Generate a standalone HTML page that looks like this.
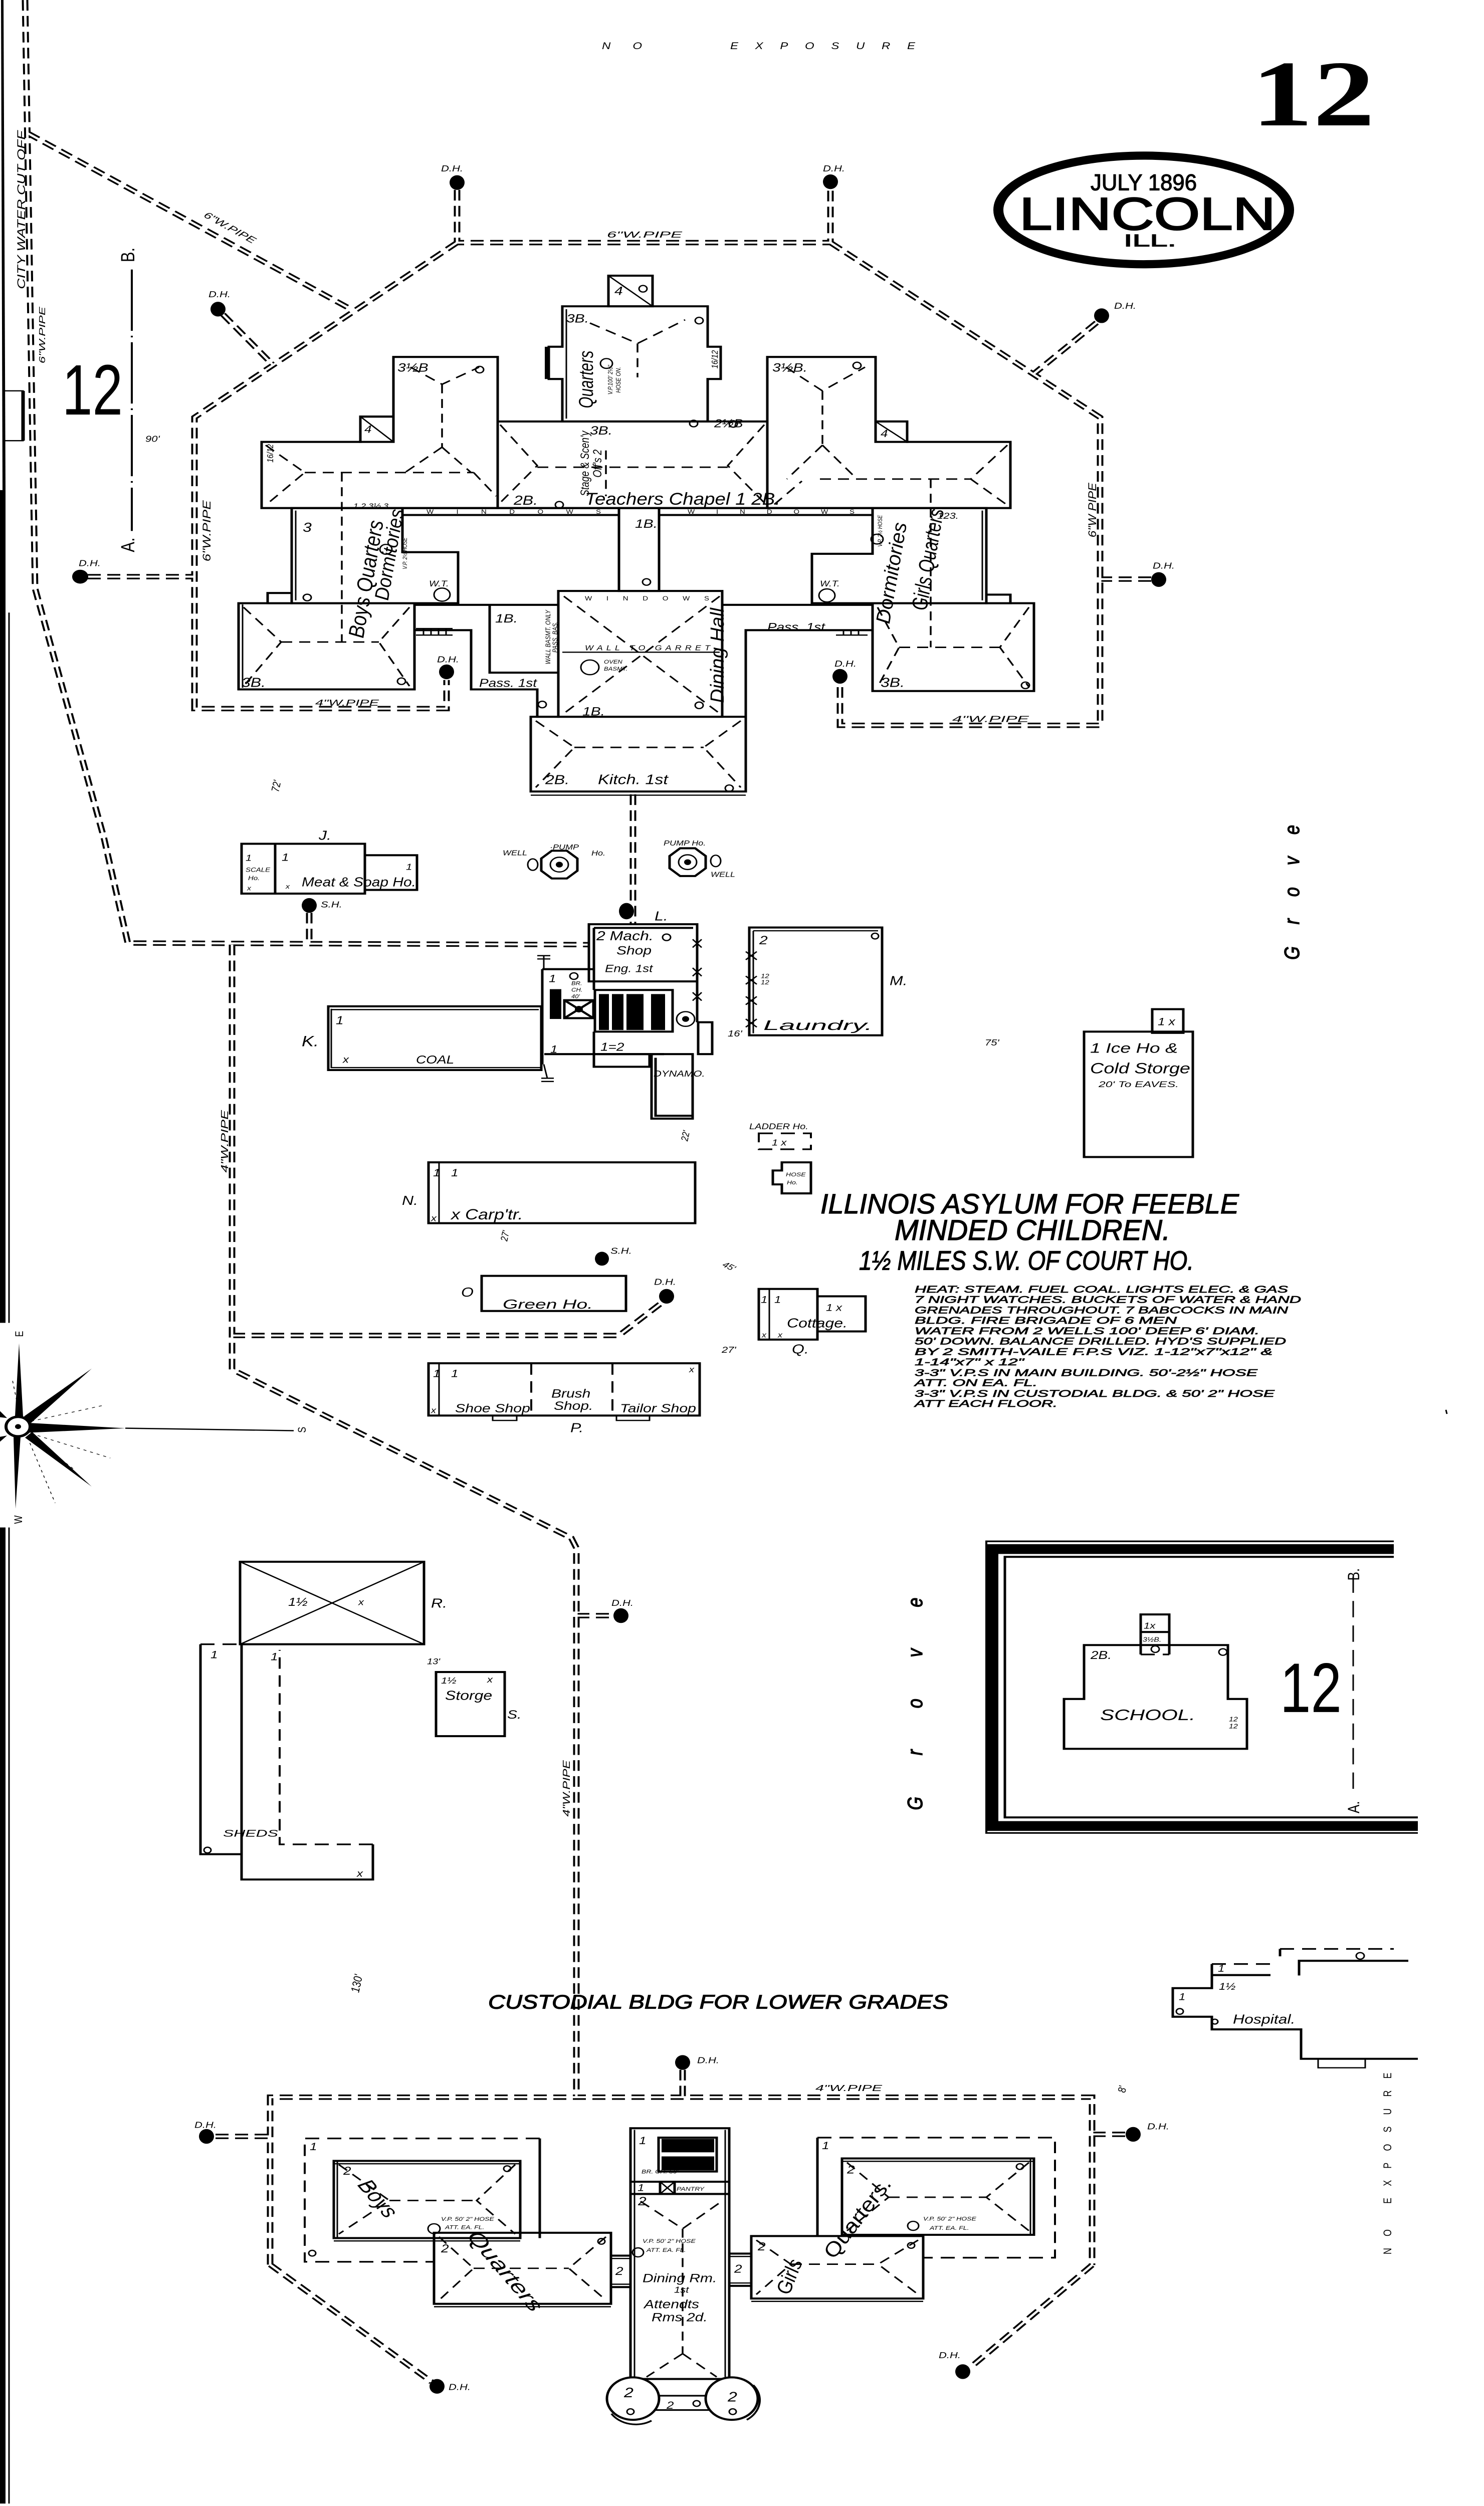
<!DOCTYPE html>
<html><head><meta charset="utf-8"><style>
html,body{margin:0;padding:0;background:#fff;width:100%;height:100%;overflow:hidden;}
svg{display:block;position:absolute;left:0;top:0;width:100vw;height:100vh;}
text{font-family:"Liberation Sans",sans-serif;font-style:italic;fill:#000;}
.b{fill:none;stroke:#000;stroke-width:5;}
.t{fill:none;stroke:#000;stroke-width:3;}
.rf{fill:none;stroke:#000;stroke-width:3.5;stroke-dasharray:22 14;}
.ds{fill:none;stroke:#000;stroke-width:4;stroke-dasharray:28 16;}
.o{fill:none;stroke:#000;stroke-width:3;}
.k{fill:#000;}
.hv{stroke:#000;stroke-width:1.5;}
.hd text{stroke:#000;stroke-width:0.9;}
</style></head><body>
<svg width="2961" height="6136" viewBox="0 0 2961 6136" preserveAspectRatio="none" xmlns="http://www.w3.org/2000/svg">
<rect x="0" y="0" width="2961" height="6136" fill="#fff"/>
<defs>
<g id="pp" fill="none">
<path d="M50 0 L70 1441 L207 2050 L255 2309 L1175 2313"/>
<path d="M55 326 L700 757"/>
<path d="M912 465 L912 594 L1657 594 L1657 465"/>
<path d="M912 594 L388 1022 L388 1735 L891 1735 L891 1665"/>
<path d="M1657 594 L2195 1022 L2195 1776 L1676 1776 L1676 1675"/>
<path d="M445 770 L545 894"/>
<path d="M2188 790 L2062 916"/>
<path d="M175 1412 L388 1412"/>
<path d="M2297 1418 L2195 1418"/>
<path d="M1263 1945 L1263 2263"/>
<path d="M617 2235 L617 2313"/>
<path d="M463 2313 L463 3353 L1140 3766 L1150 3790 L1150 5135"/>
<path d="M463 3270 L1235 3270 L1318 3192"/>
<path d="M1150 3956 L1225 3956"/>
<path d="M539 5545 L539 5135 L2179 5135 L2179 5546"/>
<path d="M539 5545 L861 5832"/>
<path d="M2179 5546 L1936 5797"/>
<path d="M1362 5068 L1362 5135"/>
<path d="M430 5231 L539 5231"/>
<path d="M2245 5226 L2179 5226"/>
</g>
</defs>

<!-- left border -->
<path d="M2 0 L7 0 L11 1200 L5 1200 Z" class="k"/>
<rect x="0" y="1200" width="11" height="2039" class="k"/>
<rect x="0" y="3740" width="11" height="2390" class="k"/>
<line x1="18" y1="1500" x2="18" y2="3239" stroke="#000" stroke-width="3"/>
<line x1="18" y1="3740" x2="18" y2="6130" stroke="#000" stroke-width="3"/>
<path d="M8 957 L46 957 L46 1079 L8 1079" class="t"/>
<line x1="46" y1="957" x2="46" y2="1079" stroke="#000" stroke-width="7"/>

<!-- pipes -->
<use href="#pp" stroke="#000" stroke-width="13" stroke-dasharray="26 13"/>
<use href="#pp" stroke="#fff" stroke-width="5"/>

<!-- top texts -->
<text x="1201" y="120" font-size="24" textLength="80" lengthAdjust="spacing">NO</text>
<text x="1457" y="120" font-size="24" textLength="369" lengthAdjust="spacing">EXPOSURE</text>
<text x="2497" y="307" font-size="230" textLength="246" lengthAdjust="spacingAndGlyphs" style="font-family:'Liberation Serif',serif;font-style:normal;font-weight:bold">12</text>
<ellipse cx="2282" cy="514" rx="290" ry="133" fill="none" stroke="#000" stroke-width="20"/>
<text x="2176" y="466" font-size="56" textLength="212" lengthAdjust="spacingAndGlyphs" class="hv" style="font-style:normal">JULY 1896</text>
<text x="2034" y="562" font-size="112" textLength="511" lengthAdjust="spacingAndGlyphs" style="font-style:normal;stroke:#000;stroke-width:3">LINCOLN</text>
<text x="2242" y="603" font-size="42" textLength="105" lengthAdjust="spacingAndGlyphs" class="hv" style="font-style:normal">ILL.</text>

<!-- left side labels -->
<text transform="translate(50,708) rotate(-90)" font-size="22" textLength="388" lengthAdjust="spacingAndGlyphs">CITY WATER CUT OFF</text>
<text transform="translate(90,890) rotate(-90)" font-size="18" textLength="139" lengthAdjust="spacingAndGlyphs">6"W.PIPE</text>
<text x="124" y="1015" font-size="175" textLength="121" lengthAdjust="spacingAndGlyphs" style="font-style:normal">12</text>
<line x1="263" y1="660" x2="263" y2="1300" stroke="#000" stroke-width="4" stroke-dasharray="150 12 4 12"/>
<text transform="translate(268,642) rotate(-90)" font-size="38" style="font-style:normal">B.</text>
<text transform="translate(268,1352) rotate(-90)" font-size="38" style="font-style:normal">A.</text>
<text x="290" y="1082" font-size="22">90'</text>
<text transform="translate(556,1940) rotate(-80)" font-size="22">72'</text>

<!-- pipe labels -->
<text x="1211" y="582" font-size="22" textLength="150" lengthAdjust="spacingAndGlyphs">6"W.PIPE</text>
<text transform="translate(405,530) rotate(34)" font-size="22" textLength="120" lengthAdjust="spacingAndGlyphs">6"W.PIPE</text>
<text transform="translate(420,1375) rotate(-90)" font-size="22" textLength="150" lengthAdjust="spacingAndGlyphs">6"W.PIPE</text>
<text transform="translate(2187,1316) rotate(-90)" font-size="22" textLength="134" lengthAdjust="spacingAndGlyphs">6"W PIPE</text>
<text x="629" y="1728" font-size="22" textLength="127" lengthAdjust="spacingAndGlyphs">4"W.PIPE</text>
<text x="1900" y="1768" font-size="22" textLength="153" lengthAdjust="spacingAndGlyphs">4"W.PIPE</text>
<text transform="translate(455,2871) rotate(-90)" font-size="20" textLength="153" lengthAdjust="spacingAndGlyphs">4"W.PIPE</text>
<text transform="translate(1137,4448) rotate(-90)" font-size="20" textLength="138" lengthAdjust="spacingAndGlyphs">4"W.PIPE</text>
<text x="1627" y="5120" font-size="22" textLength="133" lengthAdjust="spacingAndGlyphs">4"W.PIPE</text>

<!-- ===== MAIN BUILDING ===== -->
<g class="b">
<rect x="1214" y="675" width="88" height="75"/>
<path d="M1122 750 L1412 750 L1412 849 L1438 849 L1438 928 L1412 928 L1412 1032 L1122 1032 L1122 928 L1095 928 L1095 849 L1122 849 Z"/>
<path d="M785 874 L993 874 L993 1244 L522 1244 L522 1082 L719 1082 L719 1020 L785 1020 Z"/>
<rect x="993" y="1032" width="538" height="212"/>
<path d="M1531 874 L1747 874 L1747 1032 L1810 1032 L1810 1082 L2016 1082 L2016 1244 L1531 1244 Z"/>
<path d="M582 1244 L803 1244 L803 1352 L914 1352 L914 1477 L582 1477 Z"/>
<rect x="803" y="1244" width="432" height="17"/>
<rect x="1235" y="1244" width="80" height="203"/>
<rect x="1315" y="1244" width="426" height="17"/>
<path d="M1741 1244 L1968 1244 L1968 1477 L1620 1477 L1620 1356 L1741 1356 Z"/>
<rect x="476" y="1477" width="351" height="211"/>
<rect x="534" y="1452" width="48" height="25"/>
<rect x="1968" y="1456" width="48" height="21"/>
<path d="M827 1481 L1114 1481 L1114 1755 L1072 1755 L1072 1688 L940 1688 L940 1543 L827 1543"/>
<path d="M977 1481 L977 1647 L1114 1647"/>
<rect x="1114" y="1447" width="327" height="308"/>
<rect x="1059" y="1755" width="429" height="183"/>
<path d="M1441 1481 L1741 1481 L1741 1543 L1488 1543 L1488 1755"/>
<rect x="1741" y="1477" width="322" height="215"/>
<rect x="719" y="1020" width="66" height="62"/>
<rect x="1747" y="1032" width="63" height="50"/>
</g>
<g class="t">
<path d="M1214 675 L1302 750 M719 1020 L785 1082 M1747 1032 L1810 1082"/>
<path d="M1059 1947 L1488 1947 M1130 757 L1130 1025 M590 1250 L590 1470 M1960 1250 L1960 1470 M484 1480 L484 1684"/>
<path d="M830 1539 L903 1539 M830 1555 L903 1555 M845 1539 L845 1555 M860 1539 L860 1555 M875 1539 L875 1555 M890 1539 L890 1555"/>
<path d="M1668 1543 L1731 1543 M1668 1555 L1731 1555 M1683 1543 L1683 1555 M1698 1543 L1698 1555 M1713 1543 L1713 1555"/>
<path d="M1122 1597 L1436 1597"/>
</g>
<line x1="1091" y1="849" x2="1091" y2="928" stroke="#000" stroke-width="8"/>
<g class="rf">
<path d="M1177 791 L1272 841 L1367 783 M1272 841 L1272 924"/>
<path d="M998 1040 L1072 1140 L998 1231 M1072 1144 L1452 1144 M1525 1040 L1452 1140 L1525 1231 M1209 1103 L1209 1215"/>
<path d="M819 899 L882 941 L956 899 M882 941 L882 1095 M882 1095 L808 1157 M882 1095 L940 1157 M608 1157 L945 1157 M530 1090 L608 1157 L530 1237 M945 1157 L990 1215"/>
<path d="M1568 899 L1641 957 L1726 899 M1641 957 L1641 1090 M1641 1090 L1570 1173 M1641 1090 L1710 1173 M1636 1173 L1937 1173 M2010 1090 L1937 1173 L2010 1237 M1545 1235 L1600 1178"/>
<path d="M682 1157 L682 1572 M1857 1173 L1857 1585"/>
<path d="M561 1572 L756 1572 M486 1487 L561 1572 L486 1680 M817 1487 L756 1572 L817 1680"/>
<path d="M1794 1585 L1995 1585 M1751 1487 L1794 1585 L1751 1682 M2053 1487 L1995 1585 L2053 1682"/>
<path d="M1125 1460 L1436 1747 M1436 1460 L1125 1747"/>
<path d="M1146 1830 L1404 1830 M1069 1765 L1146 1830 L1069 1928 M1478 1765 L1404 1830 L1478 1928"/>
</g>
<g class="o">
<circle cx="1283" cy="707" r="8"/><circle cx="1395" cy="785" r="8"/><circle cx="957" cy="905" r="8"/><circle cx="1710" cy="895" r="8"/>
<circle cx="1116" cy="1236" r="8"/><circle cx="1384" cy="1037" r="8"/><circle cx="1463" cy="1038" r="8"/><circle cx="613" cy="1463" r="8"/>
<circle cx="801" cy="1668" r="8"/><circle cx="2046" cy="1678" r="8"/><circle cx="1290" cy="1425" r="8"/><circle cx="1082" cy="1725" r="8"/>
<circle cx="1395" cy="1727" r="8"/><circle cx="1455" cy="1930" r="8"/><circle cx="1210" cy="890" r="12"/>
<circle cx="882" cy="1456" r="16"/><circle cx="1650" cy="1458" r="16"/><circle cx="1177" cy="1634" r="18"/><circle cx="770" cy="1345" r="12"/><circle cx="1750" cy="1320" r="12"/>
</g>
<!-- main building labels -->
<g>
<text x="1226" y="722" font-size="30">4</text>
<text x="1130" y="790" font-size="30">3B.</text>
<text transform="translate(1183,929) rotate(-90)" font-size="40" text-anchor="middle" textLength="141" lengthAdjust="spacingAndGlyphs">Quarters</text>
<text transform="translate(1222,930) rotate(-90)" font-size="13" text-anchor="middle">V.P.100' 2½"</text>
<text transform="translate(1238,930) rotate(-90)" font-size="13" text-anchor="middle">HOSE ON.</text>
<text transform="translate(1432,880) rotate(-90)" font-size="18" text-anchor="middle">16/12</text>
<text x="793" y="910" font-size="30">3½B</text>
<text x="1541" y="910" font-size="30">3½B.</text>
<text x="727" y="1060" font-size="26">4</text>
<text x="1757" y="1070" font-size="26">4</text>
<text x="1177" y="1064" font-size="30">3B.</text>
<text x="1425" y="1046" font-size="28">2½B</text>
<text transform="translate(1175,1135) rotate(-90)" font-size="24" text-anchor="middle" textLength="160" lengthAdjust="spacingAndGlyphs">Stage &amp; Scen'y</text>
<text transform="translate(1200,1135) rotate(-90)" font-size="24" text-anchor="middle">Off's 2</text>
<text x="1167" y="1236" font-size="42" textLength="390" lengthAdjust="spacingAndGlyphs">Teachers Chapel 1 2B.</text>
<text x="1025" y="1236" font-size="32">2B.</text>
<text transform="translate(545,1110) rotate(-90)" font-size="18" text-anchor="middle">16/12</text>
<text x="705" y="1245" font-size="18">1.2 3½ 3</text>
<text x="851" y="1258" font-size="15" textLength="348" lengthAdjust="spacing" style="font-style:normal">WINDOWS</text>
<text x="1372" y="1258" font-size="15" textLength="333" lengthAdjust="spacing" style="font-style:normal">WINDOWS</text>
<text x="1267" y="1292" font-size="30">1B.</text>
<text x="604" y="1302" font-size="32">3</text>
<text transform="translate(745,1420) rotate(-82)" font-size="44" text-anchor="middle" textLength="290" lengthAdjust="spacingAndGlyphs">Boys Quarters</text>
<text transform="translate(790,1360) rotate(-82)" font-size="40" text-anchor="middle" textLength="225" lengthAdjust="spacingAndGlyphs">Dormitories</text>
<text transform="translate(812,1355) rotate(-90)" font-size="12" text-anchor="middle">V.P. 2½ HOSE</text>
<text x="856" y="1436" font-size="20">W.T.</text>
<text x="1636" y="1436" font-size="20">W.T.</text>
<text transform="translate(1792,1405) rotate(-82)" font-size="40" text-anchor="middle" textLength="250" lengthAdjust="spacingAndGlyphs">Dormitories</text>
<text transform="translate(1866,1372) rotate(-82)" font-size="44" text-anchor="middle" textLength="250" lengthAdjust="spacingAndGlyphs">Girls Quarters</text>
<text transform="translate(1760,1300) rotate(-90)" font-size="12" text-anchor="middle">V.P. 2½ HOSE</text>
<text x="1870" y="1270" font-size="22">123.</text>
<text x="988" y="1524" font-size="30">1B.</text>
<text transform="translate(1098,1560) rotate(-90)" font-size="14" text-anchor="middle">WALL BASMT. ONLY</text>
<text transform="translate(1112,1560) rotate(-90)" font-size="14" text-anchor="middle">PASS. BAS.</text>
<text x="1167" y="1470" font-size="15" textLength="248" lengthAdjust="spacing" style="font-style:normal">WINDOWS</text>
<text transform="translate(1444,1605) rotate(-90)" font-size="38" text-anchor="middle" textLength="233" lengthAdjust="spacingAndGlyphs">Dining Hall</text>
<text x="1167" y="1592" font-size="18" textLength="250" lengthAdjust="spacing">WALL TO GARRET</text>
<text x="1205" y="1625" font-size="13">OVEN</text>
<text x="1205" y="1642" font-size="13">BASMT.</text>
<text x="1162" y="1752" font-size="30">1B.</text>
<text x="956" y="1682" font-size="28">Pass. 1st</text>
<text x="1531" y="1545" font-size="28">Pass. 1st</text>
<text x="1088" y="1920" font-size="32">2B.</text>
<text x="1193" y="1920" font-size="34">Kitch. 1st</text>
<text x="482" y="1682" font-size="32">3B.</text>
<text x="1757" y="1682" font-size="32">3B.</text>
</g>

<!-- D.H. dots -->
<g class="k">
<ellipse cx="912" cy="447" rx="15" ry="18"/><ellipse cx="1657" cy="445" rx="15" ry="18"/>
<ellipse cx="435" cy="757" rx="15" ry="18"/><ellipse cx="2198" cy="773" rx="15" ry="18"/>
<ellipse cx="160" cy="1412" rx="16" ry="17"/><ellipse cx="2312" cy="1419" rx="15" ry="18"/>
<ellipse cx="891" cy="1645" rx="15" ry="18"/><ellipse cx="1676" cy="1656" rx="15" ry="18"/>
<ellipse cx="617" cy="2217" rx="15" ry="18"/><ellipse cx="1250" cy="2231" rx="15" ry="20"/>
<ellipse cx="1201" cy="3082" rx="14" ry="17"/><ellipse cx="1330" cy="3174" rx="15" ry="18"/>
<ellipse cx="1239" cy="3956" rx="15" ry="18"/><ellipse cx="1362" cy="5050" rx="15" ry="18"/>
<ellipse cx="412" cy="5231" rx="15" ry="18"/><ellipse cx="2261" cy="5226" rx="15" ry="18"/>
<ellipse cx="872" cy="5843" rx="15" ry="18"/><ellipse cx="1921" cy="5807" rx="15" ry="18"/>
</g>
<g font-size="22">
<text x="880" y="420">D.H.</text><text x="1642" y="420">D.H.</text>
<text x="416" y="728">D.H.</text><text x="2223" y="756">D.H.</text>
<text x="157" y="1386">D.H.</text><text x="2300" y="1392">D.H.</text>
<text x="872" y="1622">D.H.</text><text x="1665" y="1632">D.H.</text>
<text x="640" y="2222">S.H.</text><text x="1306" y="2254" font-size="32">L.</text>
<text x="1218" y="3070">S.H.</text><text x="1305" y="3146">D.H.</text>
<text x="1220" y="3932">D.H.</text><text x="1391" y="5052">D.H.</text>
<text x="388" y="5210">D.H.</text><text x="2289" y="5214">D.H.</text>
<text x="895" y="5852">D.H.</text><text x="1873" y="5774">D.H.</text>
</g>

<!-- ===== J building ===== -->
<g class="b">
<rect x="482" y="2066" width="246" height="122"/>
<line x1="549" y1="2066" x2="549" y2="2188"/>
<rect x="728" y="2094" width="104" height="85"/>
</g>
<text x="636" y="2056" font-size="32">J.</text>
<text x="490" y="2108" font-size="22">1</text>
<text x="562" y="2108" font-size="26">1</text>
<text x="490" y="2135" font-size="15">SCALE</text>
<text x="495" y="2155" font-size="15">Ho.</text>
<text x="493" y="2180" font-size="16">x</text>
<text x="570" y="2176" font-size="16">x</text>
<text x="602" y="2170" font-size="32" textLength="228" lengthAdjust="spacingAndGlyphs">Meat &amp; Soap Ho.</text>
<text x="810" y="2130" font-size="22">1</text>

<!-- pump houses -->
<g class="b">
<polygon points="1101,2083 1131,2083 1152,2102 1152,2132 1131,2151 1101,2151 1080,2132 1080,2102"/>
<polygon points="1357,2077 1387,2077 1408,2096 1408,2126 1387,2145 1357,2145 1336,2126 1336,2096"/>
</g>
<g class="o">
<circle cx="1116" cy="2117" r="18"/><circle cx="1372" cy="2111" r="18"/>
<ellipse cx="1063" cy="2117" rx="10" ry="14"/><ellipse cx="1428" cy="2108" rx="10" ry="14"/>
</g>
<circle cx="1116" cy="2117" r="7" class="k"/><circle cx="1372" cy="2111" r="7" class="k"/>
<text x="1003" y="2094" font-size="18">WELL</text>
<text x="1097" y="2080" font-size="18">·PUMP</text><text x="1180" y="2095" font-size="18">Ho.</text>
<text x="1324" y="2070" font-size="18">PUMP Ho.</text>
<text x="1418" y="2147" font-size="18">WELL</text>

<!-- engine / mach shop -->
<g class="b">
<rect x="1175" y="2263" width="216" height="140"/>
<path d="M1185 2272 L1383 2272 M1185 2272 L1185 2403"/>
<path d="M1082 2373 L1185 2373 M1082 2373 L1082 2606"/>
<path d="M1391 2403 L1391 2503"/>
<rect x="1187" y="2424" width="155" height="102"/>
<rect x="1393" y="2503" width="28" height="78"/>
<path d="M1086 2581 L1325 2581"/>
<rect x="1185" y="2581" width="111" height="31"/>
<rect x="1300" y="2581" width="82" height="158"/>
<path d="M1308 2590 L1308 2732 L1382 2732"/>
<rect x="1126" y="2449" width="58" height="44"/>
<path d="M1126 2449 L1184 2493 M1184 2449 L1126 2493"/>
<path d="M1185 2403 L1185 2424 M1185 2526 L1185 2581"/>
</g>
<rect x="1097" y="2422" width="23" height="73" class="k"/>
<rect x="1195" y="2434" width="20" height="88" class="k"/>
<rect x="1221" y="2434" width="23" height="88" class="k"/>
<rect x="1250" y="2434" width="34" height="88" class="k"/>
<rect x="1299" y="2434" width="28" height="88" class="k"/>
<circle cx="1155" cy="2471" r="8" class="k"/>
<circle cx="1368" cy="2495" r="18" class="o" stroke-width="5"/>
<circle cx="1368" cy="2495" r="7" class="k"/>
<path d="M1085 2340 L1085 2373 M1072 2340 L1098 2340 M1072 2348 L1098 2348 M1085 2606 L1092 2640 M1080 2640 L1105 2640 M1080 2648 L1105 2648" class="t"/>
<path d="M1382 2300 L1400 2320 M1400 2300 L1382 2320 M1382 2370 L1400 2390 M1400 2370 L1382 2390 M1382 2430 L1400 2450 M1400 2430 L1382 2450" class="t"/>
<text x="1190" y="2302" font-size="32">2 Mach.</text>
<text x="1230" y="2337" font-size="30">Shop</text>
<text x="1207" y="2380" font-size="26">Eng. 1st</text>
<text x="1140" y="2412" font-size="13">BR.</text><text x="1140" y="2428" font-size="13">CH.</text><text x="1140" y="2444" font-size="13">40'</text>
<text x="1198" y="2573" font-size="28">1=2</text>
<text x="1304" y="2636" font-size="22">DYNAMO.</text>
<text x="1095" y="2405" font-size="26">1</text>
<text x="1098" y="2578" font-size="26">1</text>
<text transform="translate(1372,2795) rotate(-80)" font-size="20">22'</text>
<circle cx="1330" cy="2295" r="8" class="o"/>
<circle cx="1145" cy="2390" r="8" class="o"/>

<!-- coal -->
<rect x="655" y="2464" width="425" height="156" class="b"/>
<path d="M661 2470 L661 2614 L1080 2614 M661 2472 L1075 2472" class="t"/>
<text x="602" y="2562" font-size="36">K.</text>
<text x="830" y="2604" font-size="28">COAL</text>
<text x="670" y="2508" font-size="28">1</text>
<text x="684" y="2602" font-size="24">x</text>

<!-- laundry -->
<rect x="1495" y="2271" width="265" height="264" class="b"/>
<path d="M1503 2279 L1752 2279 M1503 2279 L1503 2530" class="t"/>
<path d="M1488 2330 L1510 2350 M1510 2330 L1488 2350 M1488 2390 L1510 2410 M1510 2390 L1488 2410 M1488 2440 L1510 2460 M1510 2440 L1488 2460 M1488 2495 L1510 2515 M1510 2495 L1488 2515" class="t"/>
<text x="1515" y="2312" font-size="30">2</text>
<text x="1518" y="2395" font-size="15">12</text><text x="1518" y="2410" font-size="15">12</text>
<text x="1523" y="2522" font-size="34" textLength="218" lengthAdjust="spacingAndGlyphs">Laundry.</text>
<text x="1775" y="2412" font-size="32">M.</text>
<text x="1452" y="2538" font-size="22">16'</text>
<circle cx="1746" cy="2292" r="7" class="o"/>
<text x="1965" y="2560" font-size="22">75'</text>

<!-- ice house -->
<rect x="2163" y="2526" width="217" height="307" class="b"/>
<rect x="2299" y="2471" width="62" height="58" class="b"/>
<text x="2310" y="2510" font-size="26">1 x</text>
<text x="2175" y="2578" font-size="34" textLength="175" lengthAdjust="spacingAndGlyphs">1 Ice Ho &amp;</text>
<text x="2175" y="2628" font-size="36" textLength="200" lengthAdjust="spacingAndGlyphs">Cold Storge</text>
<text x="2192" y="2662" font-size="20" textLength="160" lengthAdjust="spacingAndGlyphs">20' To EAVES.</text>

<!-- Grove 1 -->
<text transform="translate(2592,2350) rotate(-90)" font-size="42" textLength="330" lengthAdjust="spacing" class="hv">Grove</text>

<!-- ladder/hose -->
<rect x="1514" y="2775" width="104" height="39" class="ds" stroke-dasharray="16 10"/>
<text x="1495" y="2765" font-size="20">LADDER Ho.</text>
<text x="1540" y="2805" font-size="22">1  x</text>
<path d="M1560 2846 L1618 2846 L1618 2922 L1560 2922 L1560 2900 L1542 2900 L1542 2866 L1560 2866 Z" class="b"/>
<text x="1568" y="2880" font-size="14">HOSE</text><text x="1570" y="2900" font-size="14">Ho.</text>

<!-- carpenter -->
<rect x="855" y="2846" width="532" height="149" class="b"/>
<line x1="876" y1="2846" x2="876" y2="2995" class="t"/>
<text x="802" y="2950" font-size="32">N.</text>
<text x="864" y="2880" font-size="26">1</text><text x="900" y="2880" font-size="26">1</text>
<text x="860" y="2990" font-size="22">x</text>
<text x="900" y="2986" font-size="36">x Carp'tr.</text>
<text transform="translate(1012,3040) rotate(-80)" font-size="20">27'</text>
<!-- green house -->
<rect x="961" y="3124" width="288" height="86" class="b"/>
<text x="920" y="3175" font-size="32">O</text>
<text x="1003" y="3204" font-size="32" textLength="180" lengthAdjust="spacingAndGlyphs">Green Ho.</text>
<text transform="translate(1440,3100) rotate(30)" font-size="20">45'</text>
<!-- cottage -->
<rect x="1514" y="3156" width="117" height="124" class="b"/>
<rect x="1631" y="3174" width="96" height="86" class="b"/>
<line x1="1535" y1="3156" x2="1535" y2="3280" class="t"/>
<text x="1545" y="3190" font-size="24">1</text><text x="1518" y="3190" font-size="24">1</text>
<text x="1648" y="3210" font-size="24">1  x</text>
<text x="1570" y="3250" font-size="32">Cottage.</text>
<text x="1520" y="3275" font-size="18">x</text><text x="1552" y="3275" font-size="18">x</text>
<text x="1580" y="3314" font-size="32">Q.</text>
<text x="1440" y="3312" font-size="22">27'</text>
<!-- shops -->
<rect x="855" y="3338" width="541" height="128" class="b"/>
<line x1="876" y1="3338" x2="876" y2="3466" class="t"/>
<path d="M1060 3338 L1060 3466 M1222 3338 L1222 3466" class="ds" stroke-dasharray="20 12"/>
<rect x="983" y="3466" width="48" height="12" class="t"/>
<rect x="1230" y="3466" width="66" height="12" class="t"/>
<text x="864" y="3372" font-size="26">1</text><text x="900" y="3372" font-size="26">1</text>
<text x="1375" y="3360" font-size="20">x</text>
<text x="860" y="3460" font-size="20">x</text>
<text x="908" y="3458" font-size="30" textLength="150" lengthAdjust="spacingAndGlyphs">Shoe Shop</text>
<text x="1100" y="3422" font-size="30">Brush</text>
<text x="1105" y="3452" font-size="30">Shop.</text>
<text x="1237" y="3458" font-size="30" textLength="152" lengthAdjust="spacingAndGlyphs">Tailor Shop</text>
<text x="1138" y="3507" font-size="32">P.</text>

<!-- title -->
<text x="1637" y="2971" font-size="68" textLength="835" lengthAdjust="spacingAndGlyphs" class="hv">ILLINOIS ASYLUM FOR FEEBLE</text>
<text x="1785" y="3036" font-size="70" textLength="550" lengthAdjust="spacingAndGlyphs" class="hv">MINDED CHILDREN.</text>
<text x="1714" y="3109" font-size="66" textLength="668" lengthAdjust="spacingAndGlyphs" class="hv">1½ MILES S.W. OF COURT HO.</text>
<g font-size="24" class="hd">
<text x="1825" y="3165" textLength="745" lengthAdjust="spacingAndGlyphs">HEAT: STEAM. FUEL COAL. LIGHTS ELEC. &amp; GAS</text>
<text x="1825" y="3190" textLength="771" lengthAdjust="spacingAndGlyphs">7 NIGHT WATCHES. BUCKETS OF WATER &amp; HAND</text>
<text x="1825" y="3216" textLength="745" lengthAdjust="spacingAndGlyphs">GRENADES THROUGHOUT. 7 BABCOCKS IN MAIN</text>
<text x="1825" y="3241" textLength="523" lengthAdjust="spacingAndGlyphs">BLDG. FIRE BRIGADE OF 6 MEN</text>
<text x="1825" y="3267" textLength="688" lengthAdjust="spacingAndGlyphs">WATER FROM 2 WELLS 100' DEEP 6' DIAM.</text>
<text x="1825" y="3292" textLength="741" lengthAdjust="spacingAndGlyphs">50' DOWN. BALANCE DRILLED. HYD'S SUPPLIED</text>
<text x="1825" y="3318" textLength="714" lengthAdjust="spacingAndGlyphs">BY 2 SMITH-VAILE F.P.S VIZ. 1-12"x7"x12" &amp;</text>
<text x="1825" y="3343" textLength="218" lengthAdjust="spacingAndGlyphs">1-14"x7" x 12"</text>
<text x="1825" y="3369" textLength="684" lengthAdjust="spacingAndGlyphs">3-3" V.P.S IN MAIN BUILDING. 50'-2½" HOSE</text>
<text x="1825" y="3394" textLength="245" lengthAdjust="spacingAndGlyphs">ATT. ON EA. FL.</text>
<text x="1825" y="3420" textLength="718" lengthAdjust="spacingAndGlyphs">3-3" V.P.S IN CUSTODIAL BLDG. &amp; 50' 2" HOSE</text>
<text x="1825" y="3445" textLength="285" lengthAdjust="spacingAndGlyphs">ATT EACH FLOOR.</text>
</g>
<line x1="2885" y1="3452" x2="2887" y2="3462" stroke="#000" stroke-width="3"/>

<!-- compass -->
<g>
<polygon points="30,3468 38,3289 46,3468" class="k"/>
<polygon points="27,3518 31,3694 41,3518" class="k"/>
<polygon points="58,3484 250,3497 58,3508" class="k"/>
<line x1="250" y1="3497" x2="586" y2="3503" stroke="#000" stroke-width="3"/>
<polygon points="48,3468 183,3351 62,3484" class="k"/>
<polygon points="50,3520 183,3640 64,3506" class="k"/>
<polygon points="14,3472 0,3455 0,3470" class="k"/>
<polygon points="14,3515 0,3530 0,3518" class="k"/>
<path d="M60 3470 L120 3420 M62 3480 L210 3440 M62 3510 L220 3570 M55 3520 L110 3680 M40 3470 L25 3380 M60 3515 L150 3600" stroke="#000" stroke-width="1.5" stroke-dasharray="6 8" fill="none"/>
<circle cx="36" cy="3493" r="24" fill="#fff" stroke="#000" stroke-width="6"/>
<circle cx="36" cy="3493" r="6" class="k"/>
<text transform="translate(46,3266) rotate(-90)" font-size="22" text-anchor="middle" style="font-style:normal">E</text>
<text transform="translate(610,3501) rotate(-90)" font-size="22" text-anchor="middle" style="font-style:normal">S</text>
<text transform="translate(44,3721) rotate(-90)" font-size="22" text-anchor="middle" style="font-style:normal">W</text>
</g>

<!-- R, sheds, storage -->
<rect x="479" y="3824" width="367" height="202" class="b"/>
<path d="M479 3824 L846 4026 M846 3824 L479 4026" class="t"/>
<text x="575" y="3932" font-size="28">1½</text>
<text x="715" y="3930" font-size="22">x</text>
<text x="860" y="3936" font-size="32">R.</text>
<path d="M400 4026 L400 4540 L482 4540" class="b"/>
<path d="M482 4026 L482 4602 L744 4602 L744 4516" class="b"/>
<path d="M400 4026 L482 4026" class="ds" stroke-dasharray="20 10"/>
<path d="M744 4516 L558 4516 L558 4040" class="ds" stroke-dasharray="30 16"/>
<text x="445" y="4497" font-size="24" textLength="110" lengthAdjust="spacingAndGlyphs">SHEDS</text>
<circle cx="414" cy="4530" r="7" class="o"/>
<text x="712" y="4595" font-size="24">x</text>
<text x="420" y="4060" font-size="26">1</text><text x="540" y="4065" font-size="26">1</text>
<rect x="870" y="4094" width="137" height="157" class="b"/>
<text x="880" y="4122" font-size="22">1½</text>
<text x="972" y="4120" font-size="22">x</text>
<text x="888" y="4162" font-size="32">Storge</text>
<text x="1012" y="4208" font-size="30">S.</text>
<text x="852" y="4075" font-size="20">13'</text>

<!-- Grove 2 -->
<text transform="translate(1840,4432) rotate(-90)" font-size="42" textLength="520" lengthAdjust="spacing" class="hv">Grove</text>

<!-- school frame -->
<path d="M2781 3793 L1980 3793 L1980 4471 L2829 4471" fill="none" stroke="#000" stroke-width="24"/>
<path d="M2781 3774 L1968 3774 L1968 4488 L2829 4488" fill="none" stroke="#000" stroke-width="4"/>
<path d="M2781 3812 L2005 3812 L2005 4450 L2829 4450" fill="none" stroke="#000" stroke-width="5"/>
<line x1="2700" y1="3860" x2="2700" y2="4400" stroke="#000" stroke-width="3" stroke-dasharray="40 20"/>
<text transform="translate(2712,3870) rotate(-90)" font-size="32" style="font-style:normal">B.</text>
<text transform="translate(2712,4440) rotate(-90)" font-size="32" style="font-style:normal">A.</text>
<path d="M2163 4160 L2163 4028 L2450 4028 L2450 4160 L2488 4160 L2488 4282 L2123 4282 L2123 4160 Z" class="b"/>
<rect x="2276" y="3953" width="57" height="43" class="b"/>
<path d="M2276 3996 L2276 4051 M2333 3996 L2333 4051" class="b"/>
<path d="M2276 4051 L2333 4051" class="ds" stroke-dasharray="10 8"/>
<text x="2282" y="3988" font-size="22">1x</text>
<text x="2280" y="4020" font-size="16">3½B.</text>
<circle cx="2305" cy="4038" r="8" class="o"/>
<circle cx="2440" cy="4045" r="8" class="o"/>
<text x="2176" y="4062" font-size="28">2B.</text>
<text x="2195" y="4212" font-size="38" textLength="190" lengthAdjust="spacingAndGlyphs">SCHOOL.</text>
<text x="2452" y="4215" font-size="16">12</text><text x="2452" y="4232" font-size="16">12</text>
<text x="2554" y="4192" font-size="172" textLength="123" lengthAdjust="spacingAndGlyphs" style="font-style:normal">12</text>

<!-- custodial label / hospital -->
<text transform="translate(716,4880) rotate(-80)" font-size="24">130'</text>
<text x="974" y="4918" font-size="48" textLength="918" lengthAdjust="spacingAndGlyphs" class="hv">CUSTODIAL BLDG FOR LOWER GRADES</text>
<path d="M2554 4772 L2781 4772 M2418 4809 L2535 4809" class="ds" stroke-dasharray="22 14"/>
<path d="M2554 4772 L2554 4790 M2592 4837 L2592 4801 L2810 4801 M2418 4836 L2535 4836 M2418 4809 L2418 4868 L2340 4868 L2340 4938 L2418 4938 L2418 4969 L2596 4969 L2596 5041 L2829 5041" class="b"/>
<rect x="2630" y="5041" width="94" height="22" class="t"/>
<circle cx="2714" cy="4789" r="8" class="o"/><circle cx="2354" cy="4925" r="7" class="o"/><circle cx="2424" cy="4950" r="6" class="o"/>
<text x="2432" y="4872" font-size="24">1½</text>
<text x="2352" y="4897" font-size="24">1</text>
<text x="2430" y="4828" font-size="24">1</text>
<text x="2460" y="4955" font-size="32">Hospital.</text>
<text transform="translate(2776,5520) rotate(-90)" font-size="22" textLength="445" lengthAdjust="spacing" style="font-style:normal">NO EXPOSURE</text>
<text transform="translate(2245,5125) rotate(-80)" font-size="22">8'</text>

<!-- custodial building -->
<g class="b">
<rect x="1258" y="5211" width="197" height="614"/>
<rect x="666" y="5291" width="372" height="189"/>
<rect x="866" y="5467" width="353" height="174"/>
<rect x="1219" y="5523" width="39" height="77"/>
<rect x="1680" y="5285" width="383" height="187"/>
<rect x="1499" y="5475" width="343" height="153"/>
<rect x="1455" y="5518" width="44" height="79"/>
<path d="M1077 5480 L1077 5236 M1631 5475 L1631 5234"/>
<rect x="1314" y="5234" width="116" height="83"/>
<path d="M1258 5342 L1455 5342 M1258 5372 L1455 5372"/>
<rect x="1317" y="5342" width="29" height="30"/>
</g>
<g class="t">
<path d="M1266 5215 L1266 5820 M1447 5215 L1447 5820"/>
<path d="M666 5298 L1038 5298 M673 5291 L673 5480 M666 5487 L1038 5487"/>
<path d="M866 5648 L1219 5648"/>
<path d="M1680 5292 L2063 5292 M1499 5635 L1842 5635 M2056 5285 L2056 5472"/>
<path d="M1317 5342 L1346 5372 M1346 5342 L1317 5372"/>
<path d="M1219 5530 L1258 5530 M1219 5593 L1258 5593 M1455 5525 L1499 5525 M1455 5590 L1499 5590"/>
</g>
<rect x="1320" y="5237" width="105" height="33" class="k"/>
<rect x="1320" y="5280" width="105" height="34" class="k"/>
<path d="M1077 5236 L608 5236 L608 5538 L866 5538" class="ds" stroke-dasharray="28 16"/>
<path d="M1631 5234 L2105 5234 L2105 5528 L1842 5528" class="ds" stroke-dasharray="28 16"/>
<g class="rf">
<path d="M777 5388 L951 5388 M676 5300 L777 5388 L676 5470 M1028 5300 L951 5388 L1028 5470"/>
<path d="M945 5554 L1135 5554 M876 5477 L945 5554 L876 5632 M1209 5477 L1135 5554 L1209 5632"/>
<path d="M1773 5380 L1968 5380 M1690 5295 L1773 5380 L1690 5462 M2053 5295 L1968 5380 L2053 5462"/>
<path d="M1578 5544 L1752 5544 M1509 5485 L1578 5544 L1509 5618 M1832 5485 L1752 5544 L1832 5618"/>
<path d="M1278 5390 L1362 5457 L1440 5390 M1362 5457 L1362 5763 M1362 5763 L1290 5820 M1362 5763 L1430 5820"/>
</g>
<!-- rotunda -->
<rect x="1309" y="5866" width="106" height="35" fill="#fff" stroke="#000" stroke-width="4"/>
<circle cx="1263" cy="5873" r="52" fill="#fff" stroke="#000" stroke-width="5"/>
<circle cx="1460" cy="5873" r="52" fill="#fff" stroke="#000" stroke-width="5"/>
<path d="M1220 5910 A58 58 0 0 0 1300 5927" fill="none" stroke="#000" stroke-width="4"/>
<path d="M1503 5840 A58 58 0 0 1 1490 5925" fill="none" stroke="#000" stroke-width="4"/>
<text x="1245" y="5870" font-size="34">2</text>
<text x="1452" y="5880" font-size="34">2</text>
<text x="1330" y="5898" font-size="26">2</text>
<circle cx="1258" cy="5905" r="7" class="o"/><circle cx="1462" cy="5905" r="7" class="o"/><circle cx="1390" cy="5885" r="7" class="o"/>
<!-- custodial labels -->
<text transform="translate(712,5350) rotate(55)" font-size="46">Boys</text>
<text transform="translate(930,5475) rotate(55)" font-size="44" textLength="230" lengthAdjust="spacingAndGlyphs">Quarters</text>
<text transform="translate(1575,5620) rotate(-72)" font-size="42">Girls</text>
<text transform="translate(1665,5532) rotate(-58)" font-size="44" textLength="220" lengthAdjust="spacingAndGlyphs">Quarters.</text>
<g font-size="14">
<text x="880" y="5438">V.P. 50' 2" HOSE</text><text x="888" y="5458">ATT. EA. FL.</text>
<text x="1282" y="5492">V.P. 50' 2" HOSE</text><text x="1290" y="5514">ATT. EA. FL.</text>
<text x="1842" y="5437">V.P. 50' 2" HOSE</text><text x="1855" y="5460">ATT. EA. FL.</text>
<text x="1350" y="5364">PANTRY</text>
<text x="1280" y="5322">BR. CH. 50'</text>
</g>
<circle cx="866" cy="5457" r="12" class="o"/>
<circle cx="1273" cy="5515" r="11" class="o"/>
<circle cx="1822" cy="5450" r="11" class="o"/>
<text x="1282" y="5588" font-size="30">Dining Rm.</text>
<text x="1345" y="5614" font-size="22">1st</text>
<text x="1285" y="5652" font-size="30">Attendts</text>
<text x="1300" y="5684" font-size="30">Rms 2d.</text>
<text x="1228" y="5570" font-size="28">2</text>
<text x="1465" y="5565" font-size="28">2</text>
<text x="1273" y="5400" font-size="30">2</text>
<text x="685" y="5325" font-size="28">2</text>
<text x="880" y="5515" font-size="28">2</text>
<text x="1512" y="5510" font-size="28">2</text>
<text x="1690" y="5322" font-size="28">2</text>
<text x="618" y="5265" font-size="26">1</text>
<text x="1640" y="5262" font-size="26">1</text>
<text x="1275" y="5250" font-size="26">1</text>
<text x="1272" y="5365" font-size="24">1</text>
<circle cx="623" cy="5517" r="7" class="o"/>
<circle cx="1012" cy="5310" r="7" class="o"/>
<circle cx="1200" cy="5488" r="7" class="o"/>
<circle cx="2035" cy="5305" r="7" class="o"/>
<circle cx="1818" cy="5498" r="7" class="o"/>
</svg>
</body></html>
